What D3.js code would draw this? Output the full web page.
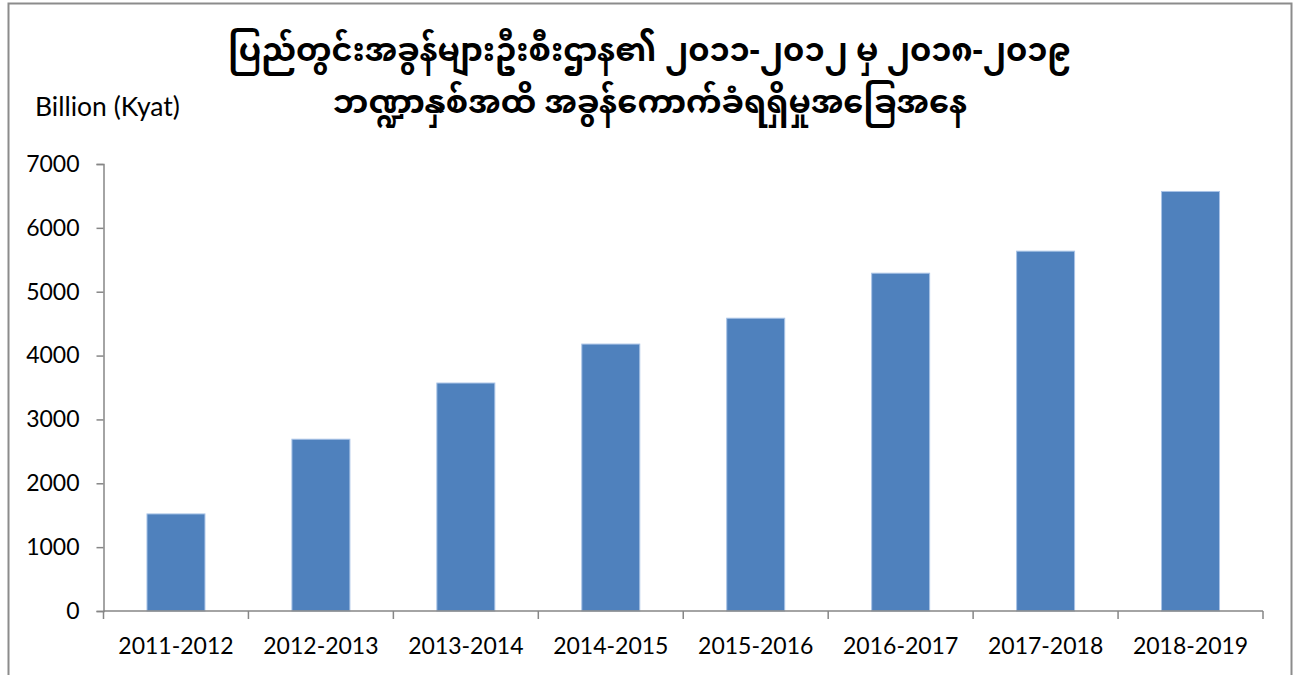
<!DOCTYPE html>
<html>
<head>
<meta charset="utf-8">
<script src="https://cdn.jsdelivr.net/npm/d3@7"></script>
<style>
  body { margin: 0; background: #fff; }
  svg { display: block; }
</style>
</head>
<body>
<svg id="chart" width="1293" height="675"></svg>
<script>
const titleLines = [
  "ပြည်တွင်းအခွန်များဦးစီးဌာန၏ ၂၀၁၁-၂၀၁၂ မှ ၂၀၁၈-၂၀၁၉",
  "ဘဏ္ဍာနှစ်အထိ အခွန်ကောက်ခံရရှိမှုအခြေအနေ"
];
const unitLabel = "Billion (Kyat)";
const years = ["2011-2012", "2012-2013", "2013-2014", "2014-2015",
               "2015-2016", "2016-2017", "2017-2018", "2018-2019"];
const revenue = [1520, 2690, 3570, 4180, 4585, 5290, 5635, 6570];
const yTicks = [0, 1000, 2000, 3000, 4000, 5000, 6000, 7000];

const svg = d3.select("#chart");
const font = "Lato, 'Open Sans', sans-serif";
const axisColor = "#868686";

// frame around the chart
svg.append("path")
  .attr("d", "M8.5,675 V3.5 H1291.5 V675")
  .attr("fill", "none")
  .attr("stroke", "#8c8c8c")
  .attr("stroke-width", 2);

const x = d3.scaleBand()
  .domain(years)
  .range([103.5, 1263])
  .paddingInner(0.6)
  .paddingOuter(0.3);

const y = d3.scaleLinear()
  .domain([0, 7000])
  .range([611, 164]);

// bars
svg.append("g")
  .selectAll("rect")
  .data(revenue)
  .join("rect")
  .attr("x", (d, i) => x(years[i]))
  .attr("y", d => y(d))
  .attr("width", x.bandwidth())
  .attr("height", d => y(0) - y(d))
  .attr("fill", "#4f81bd")
  .attr("stroke", "#a9c3e6")
  .attr("stroke-width", 1);

// y axis
const yAxis = svg.append("g")
  .attr("transform", "translate(103.5,0)")
  .call(d3.axisLeft(y).tickValues(yTicks).tickSize(7).tickPadding(17).tickFormat(d3.format("d")));

// x axis with ticks on category boundaries
const xStart = 103.5, xEnd = 1263;
const xAxisG = svg.append("g").attr("transform", `translate(0,${y(0)})`);
xAxisG.append("line")
  .attr("x1", xStart).attr("x2", xEnd)
  .attr("stroke", axisColor).attr("stroke-width", 1.5);
xAxisG.selectAll("line.tick")
  .data(d3.range(years.length + 1))
  .join("line")
  .attr("class", "tick")
  .attr("x1", i => xStart + i * (xEnd - xStart) / years.length)
  .attr("x2", i => xStart + i * (xEnd - xStart) / years.length)
  .attr("y1", 0).attr("y2", 8)
  .attr("stroke", axisColor).attr("stroke-width", 1.5);
xAxisG.selectAll("text")
  .data(years)
  .join("text")
  .attr("x", d => x(d) + x.bandwidth() / 2)
  .attr("y", 43)
  .attr("text-anchor", "middle")
  .attr("font-family", font)
  .attr("font-size", 23)
  .attr("fill", "#000")
  .text(d => d);

yAxis.select(".domain").attr("stroke", axisColor).attr("stroke-width", 1.5);
yAxis.selectAll(".tick line").attr("stroke", axisColor).attr("stroke-width", 1.5);
yAxis.selectAll(".tick text")
  .attr("font-family", font)
  .attr("font-size", 23)
  .attr("fill", "#000");

// unit label
svg.append("text")
  .attr("x", 35)
  .attr("y", 116)
  .attr("font-family", font)
  .attr("font-size", 26.5)
  .attr("fill", "#000")
  .text(unitLabel);

// title: one text block, two lines
svg.append("text")
  .attr("text-anchor", "middle")
  .attr("font-family", "'Noto Sans Myanmar', Padauk, 'Myanmar Text', 'Noto Sans', sans-serif")
  .attr("font-size", 32)
  .attr("font-weight", "bold")
  .attr("fill", "#000")
  .selectAll("tspan")
  .data(titleLines)
  .join("tspan")
  .attr("x", 650)
  .attr("y", (d, i) => 61 + i * 52)
  .text(d => d);
</script>
</body>
</html>
